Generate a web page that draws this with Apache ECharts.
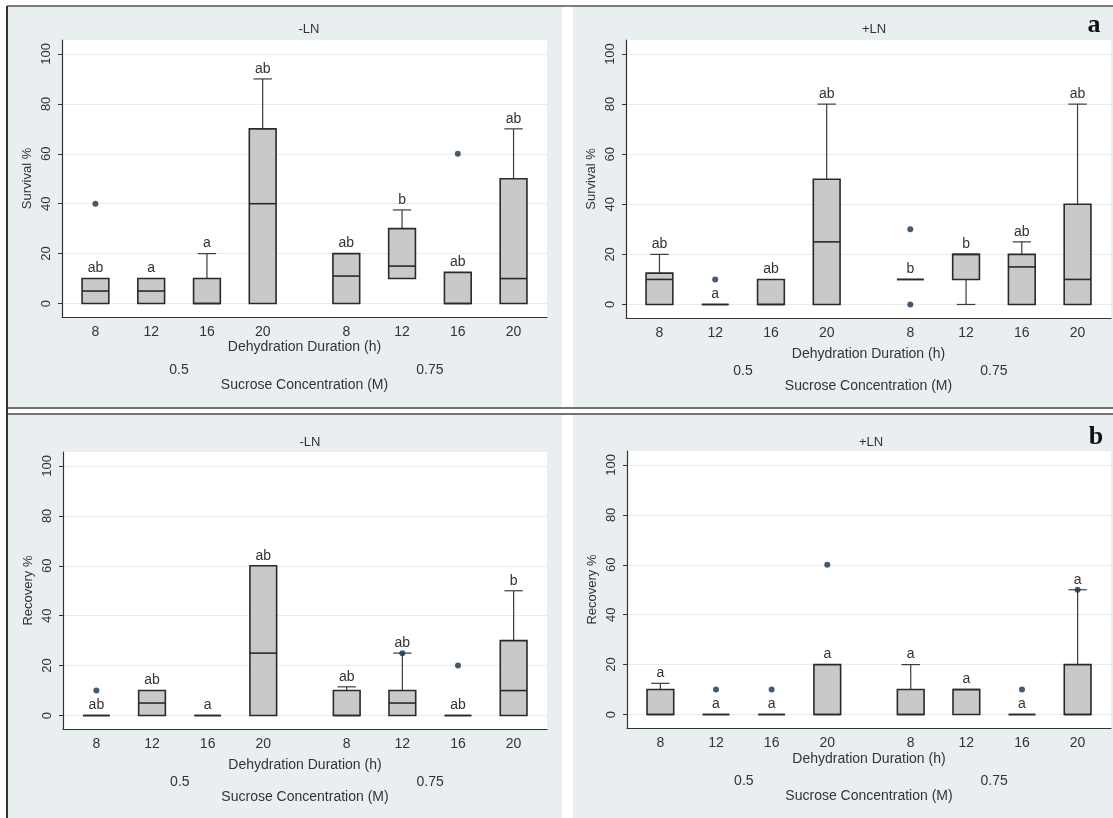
<!DOCTYPE html>
<html><head><meta charset="utf-8">
<script src="https://cdn.jsdelivr.net/npm/echarts@6/dist/echarts.min.js"></script>
<style>html,body{margin:0;padding:0;background:#fff}#c{width:1113px;height:818px}</style>
</head><body><div id="c"></div>
<script>
// ---- tick / category labels ----
const durationLabels = ['8', '12', '16', '20', '8', '12', '16', '20'];
const concentrationLabels = ['0.5', '0.75'];
const yTickValues = [0, 20, 40, 60, 80, 100];
const panelTitles = ['-LN', '+LN', '-LN', '+LN'];
const yNames = ['Survival %', 'Survival %', 'Recovery %', 'Recovery %'];
const xName = 'Dehydration Duration (h)';
const groupName = 'Sucrose Concentration (M)';
const panelLetters = ['a', 'b'];

// ---- box statistics: [lower whisker, Q1, median, Q3, upper whisker] per group ----
const survivalNoLN = [[0,0,5,10,10],[0,0,5,10,10],[0,0,0,10,20],[0,0,40,70,90],[0,0,11,20,20],[10,10,15,30,37.5],[0,0,0,12.5,12.5],[0,0,10,50,70]];
const survivalNoLNLetters = ['ab','a','a','ab','ab','b','ab','ab'];
const survivalNoLNOutliers = [[0,40],[6,60]]; // [group index, value]

const survivalLN = [[0,0,10,12.5,20],[0,0,0,0,0],[0,0,0,10,10],[0,0,25,50,80],[10,10,10,10,10],[0,10,20,20,20],[0,0,15,20,25],[0,0,10,40,80]];
const survivalLNLetters = ['ab','a','ab','ab','b','b','ab','ab'];
const survivalLNOutliers = [[1,10],[4,30],[4,0]];

const recoveryNoLN = [[0,0,0,0,0],[0,0,5,10,10],[0,0,0,0,0],[0,0,25,60,60],[0,0,0,10,11.5],[0,0,5,10,25],[0,0,0,0,0],[0,0,10,30,50]];
const recoveryNoLNLetters = ['ab','ab','a','ab','ab','ab','ab','b'];
const recoveryNoLNOutliers = [[0,10],[5,25],[6,20]];

const recoveryLN = [[0,0,0,10,12.5],[0,0,0,0,0],[0,0,0,0,0],[0,0,0,20,20],[0,0,0,10,20],[0,0,10,10,10],[0,0,0,0,0],[0,0,0,20,50]];
const recoveryLNLetters = ['a','a','a','a','a','a','a','a'];
const recoveryLNOutliers = [[1,10],[2,10],[3,60],[6,10],[7,50]];

// ---- build chart ----
const FONT = '"Liberation Sans", Arial, sans-serif';
const TXT = '#333';
const pos = i => (i < 4 ? i : i + 0.5);           // extra half-gap between concentration groups
const groupCenter = g => g * 4.5 + 1.5;
const catPositions = durationLabels.map((_, i) => pos(i));
const groupPositions = concentrationLabels.map((_, g) => groupCenter(g));

const panels = [
  {stats: survivalNoLN, letters: survivalNoLNLetters, out: survivalNoLNOutliers,
   grid: {left: 62, top: 40, width: 485, height: 277}, xGap: 23, title: [304, 18]},
  {stats: survivalLN, letters: survivalLNLetters, out: survivalLNOutliers,
   grid: {left: 626, top: 40, width: 485, height: 278}, xGap: 29, title: [869, 18]},
  {stats: recoveryNoLN, letters: recoveryNoLNLetters, out: recoveryNoLNOutliers,
   grid: {left: 63, top: 452, width: 484, height: 277}, xGap: 29, title: [305, 431]},
  {stats: recoveryLN, letters: recoveryLNLetters, out: recoveryLNOutliers,
   grid: {left: 627, top: 451, width: 484, height: 277}, xGap: 24, title: [866, 431]}
];

function makeBoxRender(letters) {
  return function (params, api) {
    const x = api.value(0);
    const lo = api.value(1), q1 = api.value(2), md = api.value(3), q3 = api.value(4), hi = api.value(5);
    const pLo = api.coord([x, lo]), pQ1 = api.coord([x, q1]), pMd = api.coord([x, md]);
    const pQ3 = api.coord([x, q3]), pHi = api.coord([x, hi]);
    const bw = api.size([0.48, 0])[0], cw = api.size([0.33, 0])[0];
    const cx = pQ1[0];
    const ws = {stroke: '#3c3c3c', lineWidth: 1.2};
    const ch = [];
    if (hi > q3) {
      ch.push({type: 'line', shape: {x1: cx, y1: pQ3[1], x2: cx, y2: pHi[1]}, style: ws});
      ch.push({type: 'line', shape: {x1: cx - cw / 2, y1: pHi[1], x2: cx + cw / 2, y2: pHi[1]}, style: ws});
    }
    if (lo < q1) {
      ch.push({type: 'line', shape: {x1: cx, y1: pQ1[1], x2: cx, y2: pLo[1]}, style: ws});
      ch.push({type: 'line', shape: {x1: cx - cw / 2, y1: pLo[1], x2: cx + cw / 2, y2: pLo[1]}, style: ws});
    }
    ch.push({type: 'rect', shape: {x: cx - bw / 2, y: pQ3[1], width: bw, height: pQ1[1] - pQ3[1]},
      style: {fill: '#c9c9c9', stroke: '#2a2a2a', lineWidth: 1.6}});
    ch.push({type: 'line', shape: {x1: cx - bw / 2, y1: pMd[1], x2: cx + bw / 2, y2: pMd[1]},
      style: {stroke: '#2a2a2a', lineWidth: 1.6}});
    ch.push({type: 'text', style: {text: letters[params.dataIndex], x: cx, y: pHi[1] - 3,
      align: 'center', verticalAlign: 'bottom', fill: TXT, fontSize: 14, fontFamily: FONT}});
    return {type: 'group', children: ch};
  };
}

const grid = [], xAxis = [], yAxis = [], series = [], title = [];
panels.forEach((p, k) => {
  grid.push(Object.assign({show: true, backgroundColor: '#ffffff', borderWidth: 0}, p.grid));
  title.push({text: panelTitles[k], left: p.title[0], top: p.title[1], textAlign: 'center',
    textStyle: {fontSize: 13, fontWeight: 'normal', color: TXT, fontFamily: FONT}});
  xAxis.push({
    gridIndex: k, type: 'value', min: -0.6, max: 8.1, position: 'bottom',
    axisLine: {show: true, onZero: false, lineStyle: {color: '#333', width: 1.2}},
    axisTick: {show: false}, splitLine: {show: false},
    axisLabel: {customValues: catPositions, margin: 8, fontSize: 14, color: TXT, fontFamily: FONT,
      formatter: v => durationLabels[catPositions.indexOf(v)]},
    name: xName, nameLocation: 'middle', nameGap: p.xGap,
    nameTextStyle: {fontSize: 14, color: TXT, fontFamily: FONT}
  });
  xAxis.push({
    gridIndex: k, type: 'value', min: -0.6, max: 8.1, position: 'bottom',
    axisLine: {show: false, onZero: false}, axisTick: {show: false}, splitLine: {show: false},
    axisLabel: {customValues: groupPositions, margin: 46, fontSize: 14, color: TXT, fontFamily: FONT,
      formatter: v => concentrationLabels[groupPositions.indexOf(v)]},
    name: groupName, nameLocation: 'middle', nameGap: 58,
    nameTextStyle: {fontSize: 14, color: TXT, fontFamily: FONT}
  });
  yAxis.push({
    gridIndex: k, type: 'value', min: -5.4, max: 105.6,
    axisLine: {show: true, onZero: false, lineStyle: {color: '#333', width: 1.2}},
    axisTick: {show: true, length: 4, customValues: yTickValues, lineStyle: {color: '#333'}},
    axisLabel: {customValues: yTickValues, rotate: 90, margin: 9, fontSize: 13, color: TXT, fontFamily: FONT},
    splitLine: {show: true, lineStyle: {color: '#e7eded', width: 1}},
    name: yNames[k], nameLocation: 'middle', nameGap: 28, nameRotate: 90,
    nameTextStyle: {fontSize: 13, color: TXT, fontFamily: FONT}
  });
  series.push({
    type: 'custom', xAxisIndex: 2 * k, yAxisIndex: k, clip: false,
    renderItem: makeBoxRender(p.letters), encode: {x: 0, y: [1, 2, 3, 4, 5]},
    data: p.stats.map((s, i) => [pos(i)].concat(s))
  });
  series.push({
    type: 'scatter', xAxisIndex: 2 * k, yAxisIndex: k, symbol: 'circle', symbolSize: 6,
    itemStyle: {color: '#17324f'}, z: 5,
    data: p.out.map(o => [pos(o[0]), o[1]])
  });
});

const BG = '#e9eff0';
const graphic = [
  {type: 'rect', z: -10, shape: {x: 7, y: 6, width: 555, height: 401}, style: {fill: BG}},
  {type: 'rect', z: -10, shape: {x: 573, y: 6, width: 540, height: 401}, style: {fill: BG}},
  {type: 'rect', z: -10, shape: {x: 7, y: 415, width: 555, height: 403}, style: {fill: BG}},
  {type: 'rect', z: -10, shape: {x: 573, y: 415, width: 540, height: 403}, style: {fill: BG}},
  {type: 'line', z: 50, shape: {x1: 7, y1: 6, x2: 1113, y2: 6}, style: {stroke: '#555', lineWidth: 1.5}},
  {type: 'line', z: 50, shape: {x1: 7, y1: 408, x2: 1113, y2: 408}, style: {stroke: '#444', lineWidth: 1.5}},
  {type: 'line', z: 50, shape: {x1: 7, y1: 414, x2: 1113, y2: 414}, style: {stroke: '#444', lineWidth: 1.5}},
  {type: 'line', z: 50, shape: {x1: 7, y1: 6, x2: 7, y2: 818}, style: {stroke: '#333', lineWidth: 2}},
  {type: 'text', z: 50, style: {text: panelLetters[0], x: 1094, y: 25, align: 'center', verticalAlign: 'middle',
    fill: '#111', fontSize: 26, fontWeight: 'bold', fontFamily: '"Liberation Serif", "Times New Roman", serif'}},
  {type: 'text', z: 50, style: {text: panelLetters[1], x: 1096, y: 437, align: 'center', verticalAlign: 'middle',
    fill: '#111', fontSize: 26, fontWeight: 'bold', fontFamily: '"Liberation Serif", "Times New Roman", serif'}}
];

const chart = echarts.init(document.getElementById('c'), null, {renderer: 'canvas'});
chart.setOption({animation: false, backgroundColor: '#ffffff', title, grid, xAxis, yAxis, series, graphic});
</script>
</body></html>
